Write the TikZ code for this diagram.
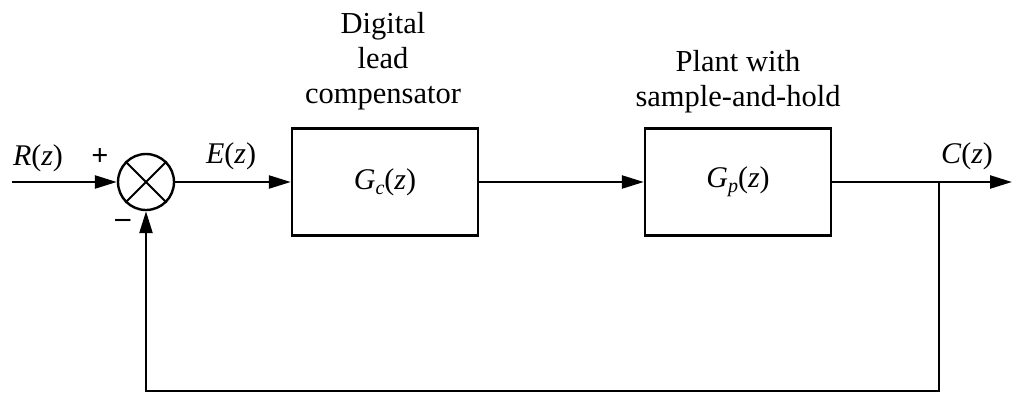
\documentclass[tikz,border=0pt]{standalone}
\usepackage{fontspec}
\setmainfont{Liberation Serif}
\usetikzlibrary{arrows.meta}
\begin{document}
\begin{tikzpicture}[x=1pt,y=-1pt,
  line width=2.4pt,
  sig/.style={-{Triangle[length=22pt,width=13pt]}},
  blk/.style={draw,minimum width=186pt,minimum height=107pt,inner sep=0pt,font=\fontsize{30}{34}\selectfont},
  lbl/.style={font=\fontsize{30}{34}\selectfont,inner sep=0pt},
  captxt/.style={font=\fontsize{30.5}{35}\selectfont,align=center,inner sep=0pt}]
\useasboundingbox (0,0) rectangle (1018,397);
\node[draw,circle,minimum size=56pt,inner sep=0pt] (sum) at (146,182) {};
\draw[line width=2pt] (sum.north west) -- (sum.south east) (sum.north east) -- (sum.south west);
\node[blk] (gc) at (385,182) {\textit{G}\raisebox{-5pt}{\fontsize{20}{20}\selectfont\textit{c}}(\textit{z})};
\node[blk] (gp) at (738,182) {\textit{G}\raisebox{-5pt}{\fontsize{20}{20}\selectfont\textit{p}}(\textit{z})};
\coordinate (in) at (12,182);
\coordinate (out) at (1012,182);
\coordinate (br) at (939,182);
\coordinate (bl) at (939,391);
\coordinate (bll) at (146,391);
\draw[sig] (in) -- (sum.west);
\draw[sig] (sum.east) -- (gc.west);
\draw[sig] (gc.east) -- (gp.west);
\draw[sig] (gp.east) -- (out);
\draw[sig] (br) -- (bl) -- (bll) -- (sum.south);
\node[lbl] (r) at (38,158) {\textit{R}(\textit{z})};
\node[lbl] (plus) at (100,157) {\textbf{+}};
\node[lbl] (minus) at (123,223) {\textbf{–}};
\node[lbl] (e) at (231,156) {\textit{E}(\textit{z})};
\node[lbl] (c) at (967,156) {\textit{C}(\textit{z})};
\node[captxt,anchor=south] (capc) at (383,111) {Digital\\lead\\compensator};
\node[captxt,anchor=south] (capp) at (738,114) {Plant with\\sample-and-hold};
\end{tikzpicture}
\end{document}
